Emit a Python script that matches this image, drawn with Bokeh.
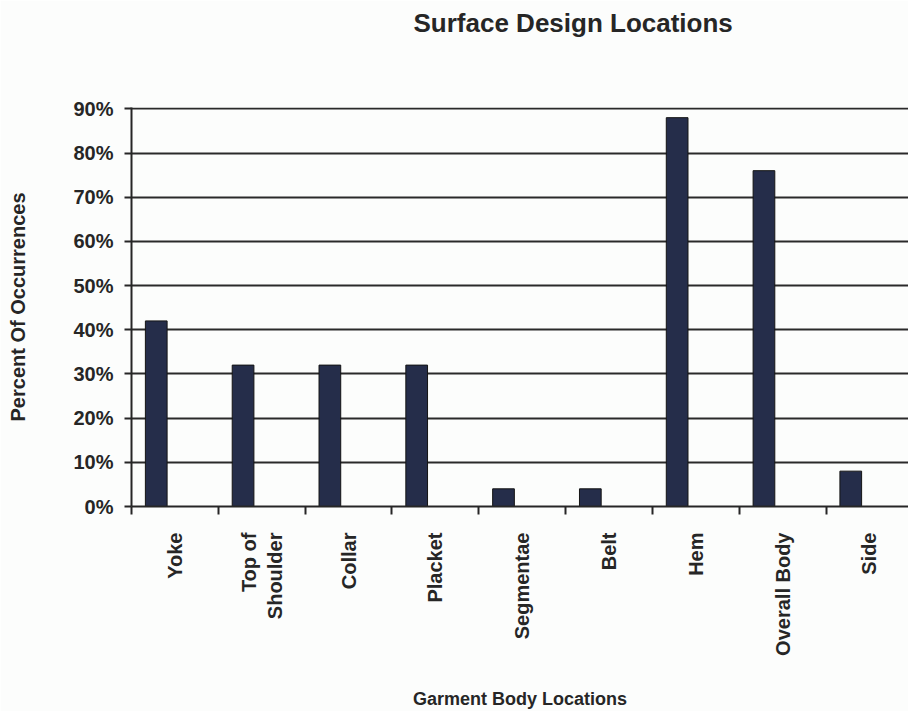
import math
from bokeh.plotting import figure
from bokeh.models import ColumnDataSource, Range1d, FixedTicker, NumeralTickFormatter, Title
from bokeh.transform import dodge
from bokeh.embed import file_html
from bokeh.resources import INLINE

categories = ["Yoke", "Top of\nShoulder", "Collar", "Placket", "Segmentae",
              "Belt", "Hem", "Overall Body", "Side"]
percent = [0.42, 0.32, 0.32, 0.32, 0.04, 0.04, 0.88, 0.76, 0.08]
y_ticks = [0.0, 0.1, 0.2, 0.3, 0.4, 0.5, 0.6, 0.7, 0.8, 0.9]

title_text = "Surface Design Locations"
x_title = "Garment Body Locations"
y_title = "Percent Of Occurrences"

FONT = "Liberation Sans"
INK = "#262626"
BG = "#fcfdfc"

pos = [i + 0.5 for i in range(len(categories))]
boundaries = list(range(len(categories) + 1))
src = ColumnDataSource(dict(pos=pos, pct=percent, cat=categories))

p = figure(width=908, height=711,
           x_range=Range1d(0, 8.95), y_range=Range1d(0, 0.903),
           output_backend="svg", toolbar_location=None,
           min_border_left=131, min_border_right=0,
           min_border_top=107, min_border_bottom=203)

p.background_fill_color = BG
p.border_fill_color = BG
p.outline_line_color = None

p.vbar(x=dodge("pos", -0.215, range=p.x_range), top="pct", width=0.25,
       source=src, fill_color="#252d4a", line_color="#141414", line_width=1)

# Y axis
p.yaxis.ticker = FixedTicker(ticks=y_ticks)
p.yaxis.formatter = NumeralTickFormatter(format="0%")
p.yaxis.major_tick_out = 7
p.yaxis.major_tick_in = 0
p.yaxis.minor_tick_line_color = None
p.yaxis.major_tick_line_width = 2
p.yaxis.major_tick_line_color = INK
p.yaxis.axis_line_width = 2
p.yaxis.axis_line_color = INK
p.yaxis.major_label_standoff = 11
p.yaxis.major_label_text_font = FONT
p.yaxis.major_label_text_font_style = "bold"
p.yaxis.major_label_text_font_size = "20px"
p.yaxis.major_label_text_color = INK
p.yaxis.axis_label = y_title
p.yaxis.axis_label_text_font = FONT
p.yaxis.axis_label_text_font_style = "bold"
p.yaxis.axis_label_text_font_size = "20px"
p.yaxis.axis_label_text_color = INK
p.yaxis.axis_label_standoff = 41

# X axis
p.xaxis.ticker = FixedTicker(ticks=pos, minor_ticks=boundaries)
p.xaxis.major_label_overrides = {pos[i]: categories[i] for i in range(len(categories))}
p.xaxis.major_tick_out = 0
p.xaxis.major_tick_in = 0
p.xaxis.major_tick_line_color = None
p.xaxis.minor_tick_out = 8
p.xaxis.minor_tick_in = 0
p.xaxis.minor_tick_line_width = 2
p.xaxis.minor_tick_line_color = INK
p.xaxis.axis_line_width = 2
p.xaxis.axis_line_color = INK
p.xaxis.major_label_orientation = math.pi / 2
p.xaxis.major_label_standoff = 18
p.xaxis.major_label_text_font = FONT
p.xaxis.major_label_text_font_style = "bold"
p.xaxis.major_label_text_font_size = "20px"
p.xaxis.major_label_text_color = INK
p.xaxis.axis_label = x_title
p.xaxis.axis_label_text_font = FONT
p.xaxis.axis_label_text_font_style = "bold"
p.xaxis.axis_label_text_font_size = "18px"
p.xaxis.axis_label_text_color = INK
p.xaxis.axis_label_standoff = 30

# Grid
p.xgrid.grid_line_color = None
p.ygrid.ticker = FixedTicker(ticks=y_ticks)
p.ygrid.grid_line_color = "#2a2a2a"
p.ygrid.grid_line_width = 2

# Spacer between title and frame, then the title itself (outermost)
p.add_layout(Title(text=" ", text_font_size="47px"), "above")
p.title.text = title_text
p.title.align = "left"
p.title.offset = 282
p.title.text_font = FONT
p.title.text_font_style = "bold"
p.title.text_font_size = "26px"
p.title.text_color = INK

open("out.html", "w").write(file_html(p, INLINE))
